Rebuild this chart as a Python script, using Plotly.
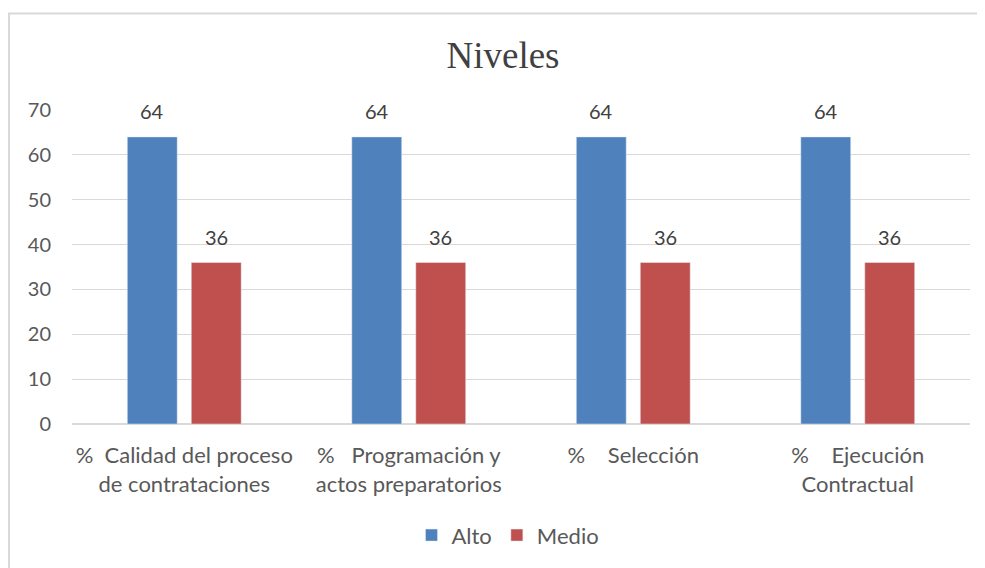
import plotly.graph_objects as go

categories = ["%  Calidad del proceso<br>de contrataciones",
              "%   Programación y<br>actos preparatorios",
              "%    Selección",
              "%    Ejecución<br>Contractual"]
alto = [64, 64, 64, 64]
medio = [36, 36, 36, 36]

OFF = 8  # page body margin
W, H = 985 - OFF, 568 - OFF
L, R, T = 72 - OFF, 15, 110 - OFF
B = H - (426 - OFF)
pw, ph = W - L - R, H - T - B

def px(x):
    return (x - OFF - L) / pw

def py(y):
    return (H - B - (y - OFF)) / ph

font_main = "Lato, 'Open Sans', sans-serif"
fig = go.Figure()
fig.add_trace(go.Bar(name="Alto", x=categories, y=alto, marker_color="#4F81BD"))
fig.add_trace(go.Bar(name="Medio", x=categories, y=medio, marker_color="#C0504D"))

annotations = []
for series, shift in ((alto, -32), (medio, 32)):
    for c, v in zip(categories, series):
        annotations.append(dict(x=c, y=v, xref="x", yref="y", text=str(v), showarrow=False,
                                xshift=shift, yshift=26, yanchor="middle",
                                font=dict(size=20, color="#404040", family=font_main)))

fig.update_layout(
    width=W, height=H,
    margin=dict(l=L, r=R, t=T, b=B),
    paper_bgcolor="white", plot_bgcolor="white",
    barmode="group", bargap=0.43, bargroupgap=0.22,
    title=dict(text="Niveles", x=(503 - OFF) / W, xanchor="center",
               y=1 - (55 - OFF) / H, yanchor="middle",
               font=dict(family="'Liberation Serif', 'DejaVu Serif', serif", size=37, color="#404040")),
    font=dict(family=font_main, size=20, color="#595959"),
    yaxis=dict(range=[0, 70], dtick=10, showgrid=True, gridcolor="#D9D9D9", gridwidth=1,
               zeroline=True, zerolinecolor="#D9D9D9", zerolinewidth=1.5,
               showline=False, ticks="", ticklabelstandoff=20,
               tickfont=dict(size=20, color="#595959")),
    xaxis=dict(showline=False, ticks="", tickfont=dict(size=22, color="#595959"),
               tickangle=0, ticklabelstandoff=16),
    showlegend=True,
    legend=dict(orientation="h", x=px(508), xanchor="center", y=py(538), yanchor="middle",
                font=dict(size=22, color="#595959"), itemwidth=30, traceorder="normal"),
    annotations=annotations,
    shapes=[dict(type="rect", xref="paper", yref="paper",
                 x0=px(9), x1=px(1000), y0=py(600), y1=py(13),
                 line=dict(color="#D9D9D9", width=2), fillcolor="rgba(0,0,0,0)", layer="below")],
)

fig.write_html("out.html")
